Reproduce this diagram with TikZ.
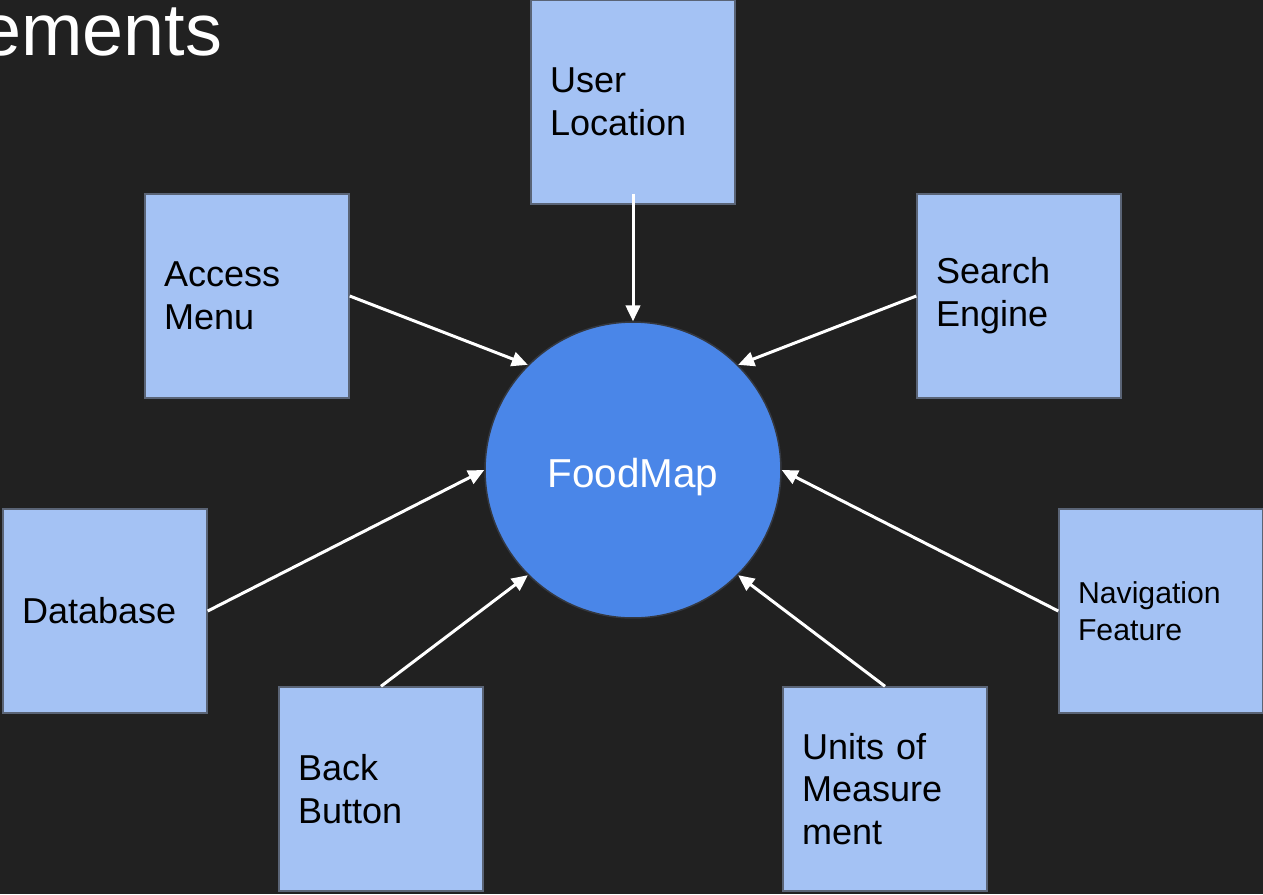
\documentclass[tikz,border=0pt]{standalone}
\usepackage{fontspec}
\setmainfont{Liberation Sans}
\usepackage{tikz}
\usetikzlibrary{arrows.meta}
\definecolor{SlideBg}{RGB}{33,33,33}
\definecolor{BoxBlue}{RGB}{164,194,244}
\definecolor{BoxEdge}{RGB}{90,100,118}
\definecolor{HubBlue}{RGB}{74,134,232}
\definecolor{HubEdge}{RGB}{52,56,64}

\begin{document}
\begin{tikzpicture}[x=0.02cm,y=-0.02cm,>={Triangle[length=3.2mm,width=2.9mm]},
  feature/.style={draw=BoxEdge,line width=0.3mm,fill=BoxBlue,text=black,
    minimum height=40.8mm,text width=33.2mm,inner xsep=3.8mm,align=left,
    font=\fontsize{20.5}{24.3}\selectfont},
  hub/.style={circle,draw=HubEdge,line width=0.3mm,fill=HubBlue,text=white,
    minimum size=59.2mm,text height=24.8pt,font=\fontsize{23}{27}\selectfont},
  link/.style={->,white,line width=0.6mm}]
  \fill[SlideBg] (0,0) rectangle (1263,894);
  \useasboundingbox (0,0) rectangle (1263,894);
  \node[anchor=base west,inner sep=0,text=white,font=\fontsize{42}{50}\selectfont] (title) at (-20,55) {ements};
  % hub and the features round it
  \node[hub] (foodmap) at (633,470) {FoodMap};
  \node[feature] (location) at (633,102) {User\\Location};
  \node[feature] (menu) at (247,296) {Access\\Menu};
  \node[feature] (search) at (1019,296) {Search\\Engine};
  \node[feature] (database) at (105,611) {Database};
  \node[feature,font=\fontsize{17.2}{21}\selectfont] (navigation) at (1161,611) {Navigation\\Feature};
  \node[feature] (back) at (381,789) {Back\\Button};
  \node[feature] (units) at (885,789) {Units of\\Measure\\ment};
  % connectors into the hub
  \draw[link] ([yshift=2.2mm]location.south) -- (foodmap.90);
  \draw[link] (menu.east) -- (foodmap.135);
  \draw[link] (search.west) -- (foodmap.45);
  \draw[link] (database.east) -- (foodmap.180);
  \draw[link] (navigation.west) -- (foodmap.0);
  \draw[link] (back.north) -- (foodmap.225);
  \draw[link] (units.north) -- (foodmap.315);
\end{tikzpicture}
\end{document}
